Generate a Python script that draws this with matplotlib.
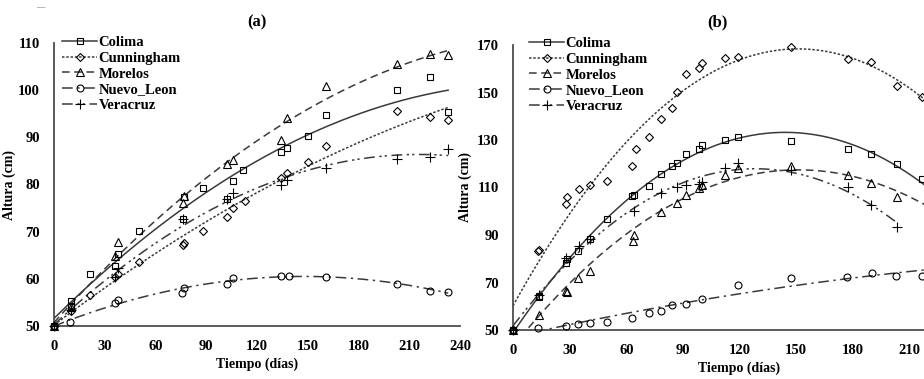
import numpy as np
import matplotlib
matplotlib.use("Agg")
import matplotlib.pyplot as plt
from matplotlib.lines import Line2D

plt.rcParams['font.family'] = ['Liberation Serif', 'DejaVu Serif']
plt.rcParams['font.weight'] = 'bold'

series_names = ["Colima", "Cunningham", "Morelos", "Nuevo_Leon", "Veracruz"]

# ---- Panel (a) ----
colima_a_days = [0, 10, 10, 21, 36, 38, 50, 76, 77, 88, 102, 106, 112, 134, 138, 150, 161, 203, 222, 233]
colima_a_vals = [50, 54.2, 55.2, 61.1, 62.7, 65.2, 70.1, 72.6, 77.4, 79.2, 76.9, 80.7, 83.0, 86.8, 87.8, 90.2, 94.7, 100.0, 102.7, 95.3]
cunningham_a_days = [0, 10, 21, 36, 38, 50, 76, 77, 88, 102, 106, 113, 134, 138, 150, 161, 203, 222, 233]
cunningham_a_vals = [50, 53.2, 56.6, 60.4, 61.0, 63.6, 67.2, 67.5, 70.1, 73.2, 75.0, 76.5, 81.3, 82.5, 84.8, 88.2, 95.5, 94.3, 93.6]
morelos_a_days = [0, 10, 36, 38, 76, 77, 102, 106, 134, 138, 161, 203, 222, 233]
morelos_a_vals = [50, 54.0, 64.8, 67.8, 76.0, 77.6, 84.3, 85.3, 89.5, 94.0, 100.9, 105.5, 107.6, 107.4]
nuevo_a_days = [0, 9.5, 36, 38, 75.5, 77, 102, 106, 134, 139, 161, 203, 222, 233]
nuevo_a_vals = [50, 50.8, 54.8, 55.6, 57.1, 58.0, 59.0, 60.1, 60.7, 60.7, 60.4, 59.0, 57.5, 57.2]
veracruz_a_days = [0, 10, 36, 38, 76, 102, 106, 134, 138, 161, 203, 222, 233]
veracruz_a_vals = [50, 53.4, 60.3, 62.4, 72.6, 77.0, 78.1, 80.0, 81.0, 83.5, 85.5, 85.9, 87.5]

# ---- Panel (b) ----
colima_b_days = [0, 13.8, 13.8, 28, 28.4, 34.6, 41, 50, 63.2, 64, 72, 78.4, 84.3, 86.7, 91.7, 98.4, 100.2, 112.4, 119, 147.3, 177.7, 189.7, 203.3, 216.6]
colima_b_vals = [50, 63.8, 64.3, 78.1, 79.8, 83.4, 88.2, 96.7, 106.5, 106.8, 110.6, 115.7, 119.2, 120.2, 124.0, 126.2, 127.9, 130.0, 131.4, 129.6, 126.2, 124.0, 119.9, 113.6]
cunningham_b_days = [0, 13.4, 13.8, 28, 28.4, 35, 41, 49.6, 63.3, 65, 72, 78.4, 84, 86.7, 91.7, 98.4, 100.2, 112.4, 119, 147.3, 177.7, 189.7, 203.3, 216.6]
cunningham_b_vals = [50, 83.3, 83.8, 102.9, 106.1, 109.4, 111.0, 112.9, 119.2, 126.2, 131.4, 138.8, 143.3, 150.3, 157.8, 160.4, 162.5, 164.4, 164.8, 169.0, 164.0, 162.7, 152.7, 148.2]
morelos_b_days = [0, 13.9, 27.9, 28.4, 34.6, 41, 63.8, 64.3, 78.3, 86.7, 91.7, 98.6, 100.2, 112.4, 119, 147.3, 177.7, 189.7, 203.3]
morelos_b_vals = [50, 56.3, 66.4, 66.2, 72.0, 74.8, 87.6, 90.0, 99.6, 103.6, 106.8, 109.7, 111.0, 115.3, 118.1, 119.2, 115.3, 111.8, 106.1]
nuevo_b_days = [0, 13.4, 28, 34.6, 41, 49.6, 63.2, 72, 78.4, 84, 91.5, 100.3, 119, 147.4, 177, 190, 203, 216.6]
nuevo_b_vals = [50, 50.7, 51.7, 52.4, 53.1, 53.5, 55.2, 57.0, 58.1, 60.5, 61.0, 62.9, 68.9, 71.8, 72.5, 73.9, 72.9, 72.9]
veracruz_b_days = [0, 14, 28, 35, 41, 64, 78.3, 86.7, 91.7, 98.6, 100.2, 112.4, 119, 147.3, 177.7, 189.7, 203.3]
veracruz_b_vals = [50, 64.7, 80.2, 85.4, 88.2, 100.1, 107.5, 110.3, 111.0, 111.5, 112.5, 118.1, 120.2, 117.4, 110.3, 102.6, 93.5]

x_ticks_a = [0, 30, 60, 90, 120, 150, 180, 210, 240]
x_ticks_b = [0, 30, 60, 90, 120, 150, 180, 210]
y_ticks_a = [50, 60, 70, 80, 90, 100, 110]
y_ticks_b = [50, 70, 90, 110, 130, 150, 170]

markers = ['s', 'D', '^', 'o', '+']
msizes = [5, 4.2, 5.5, 5, 7]
lstyles = ['-', (0, (1.6, 1.2)), (0, (5, 3)), (0, (7, 3, 1.5, 3)), (0, (7, 3, 1.5, 2, 1.5, 3))]
lcol = '#3a3a3a'

fig = plt.figure(figsize=(9.24, 3.79), dpi=100)
W, H = 924, 379

def add_axes_px(x0, x1, y0, y1):
    return fig.add_axes([x0 / W, 1 - y0 / H, (x1 - x0) / W, (y0 - y1) / H])

ax_a = add_axes_px(54, 460, 326, 43)
ax_b = add_axes_px(513, 966, 330, 45)

panels = [
    (ax_a, [(colima_a_days, colima_a_vals), (cunningham_a_days, cunningham_a_vals),
            (morelos_a_days, morelos_a_vals), (nuevo_a_days, nuevo_a_vals),
            (veracruz_a_days, veracruz_a_vals)], (50, 110), x_ticks_a, y_ticks_a, None, -0.094),
    (ax_b, [(colima_b_days, colima_b_vals), (cunningham_b_days, cunningham_b_vals),
            (morelos_b_days, morelos_b_vals), (nuevo_b_days, nuevo_b_vals),
            (veracruz_b_days, veracruz_b_vals)], (50, 170), x_ticks_b, y_ticks_b, 222, -0.09),
]

for ax, data, ylim, xticks, yticks, xend, ylx in panels:
    for i, (d, v) in enumerate(data):
        d = np.array(d, float)
        v = np.array(v, float)
        coef = np.polyfit(d, v, 2)
        end = d.max() if (xend is None or i == 4) else max(d.max(), xend)
        xf = np.linspace(0, end, 300)
        ax.plot(xf, np.polyval(coef, xf), color=lcol, lw=1.1, ls=lstyles[i], zorder=2)
        ax.plot(d, v, ls='none', marker=markers[i], ms=msizes[i], mfc='none',
                mec='black', mew=0.8, zorder=3, clip_on=False)
    ax.set_xlim(0, 240)
    ax.set_ylim(*ylim)
    ax.set_xticks(xticks)
    ax.set_yticks(yticks)
    ax.tick_params(length=0, labelsize=10.5, pad=10)
    for lab in ax.get_xticklabels() + ax.get_yticklabels():
        lab.set_fontweight('bold')
    for s in ['top', 'right']:
        ax.spines[s].set_visible(False)
    for s in ['left', 'bottom']:
        ax.spines[s].set_color('#4d4d4d')
        ax.spines[s].set_linewidth(1.3)
    ax.set_xlabel("Tiempo (días)", fontsize=10, fontweight='bold', labelpad=3)
    ax.set_ylabel("Altura (cm)", fontsize=10, fontweight='bold')
    ax.yaxis.set_label_coords(ylx, 0.5)

handles = [Line2D([], [], color=lcol, lw=1.1, ls=lstyles[i], marker=markers[i],
                  ms=msizes[i], mfc='none', mec='black', mew=0.8) for i in range(5)]

leg_kw = dict(loc='upper left', bbox_transform=fig.transFigure, frameon=False,
              handlelength=2.4, handletextpad=0.1, labelspacing=0.17, borderaxespad=0,
              borderpad=0, prop={'weight': 'bold', 'size': 10.5})
ax_a.legend(handles, series_names, bbox_to_anchor=(62 / W, 1 - 36 / H), **leg_kw)
ax_b.legend(handles, series_names, bbox_to_anchor=(529 / W, 1 - 37 / H), **leg_kw)

fig.text(257 / W, 1 - 22 / H, "(a)", ha='center', va='center', fontsize=12, fontweight='bold')
fig.text(717 / W, 1 - 22 / H, "(b)", ha='center', va='center', fontsize=12, fontweight='bold')
fig.text(40 / W, 1 - 7 / H, "—", ha='center', va='center', fontsize=6, color='#888888')

fig.savefig("out.png", dpi=100)
